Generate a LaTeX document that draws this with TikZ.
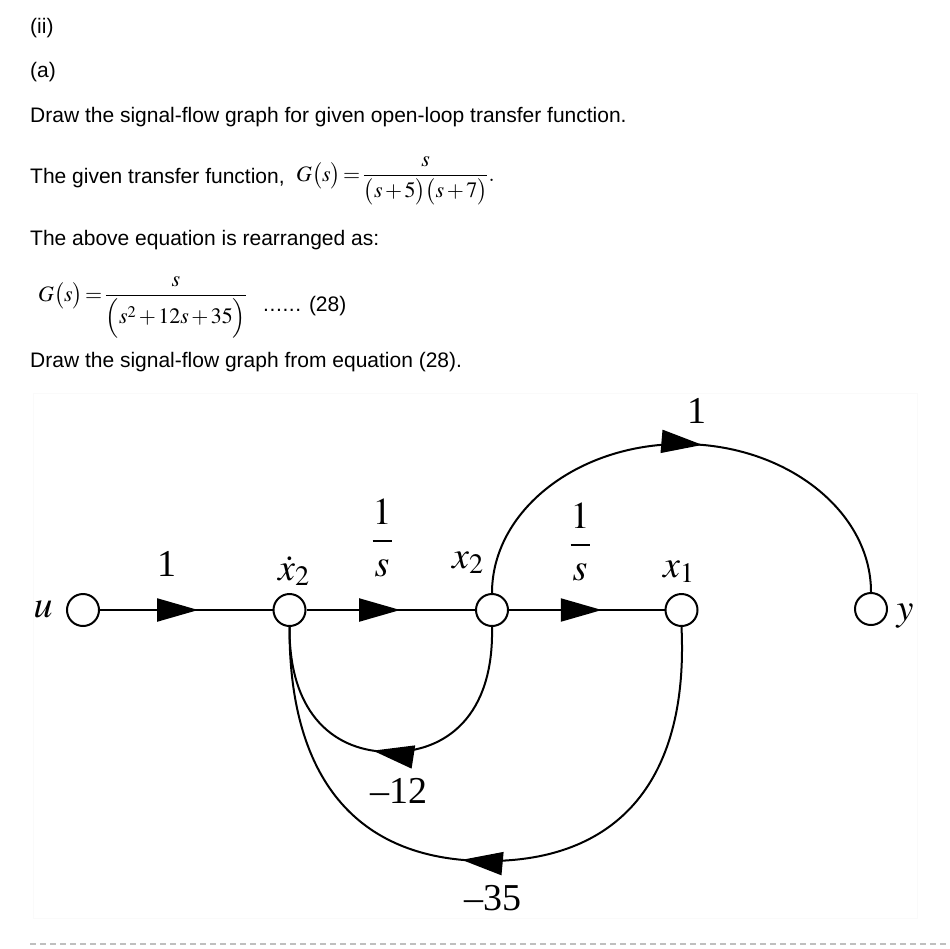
\documentclass[tikz,border=0pt]{standalone}
\usepackage{mathptmx}
\usepackage[no-math]{fontspec}
\setmainfont{Liberation Sans}
\newfontfamily\tms{Liberation Serif}
\newcommand{\tightsp}{\thickmuskip=2mu\relax\medmuskip=2mu\relax}
\usetikzlibrary{arrows.meta,decorations.markings}
\begin{document}
\begin{tikzpicture}[x=1pt,y=1pt,
  txt/.style={anchor=base west, inner sep=0pt, font=\fontsize{21}{25}\selectfont},
  eq/.style={anchor=base west, inner sep=0pt, font=\fontsize{22}{26}\selectfont},
  nd/.style={circle, draw, line width=2pt, minimum size=32pt, inner sep=0pt, fill=white},
  lab/.style={inner sep=0pt, font=\fontsize{38}{40}\selectfont},
  wire/.style={line width=2pt},
  arrowat/.style={postaction={decorate}, decoration={markings,
     mark=at position #1 with {\arrow{Triangle[length=41pt,width=23pt]}}}}
]
\useasboundingbox (0,0) rectangle (950,-948);
\fill[white] (0,0) rectangle (950,-948);
% faint frame
\draw[black!2, line width=1pt] (33,-393) rectangle (917,-918);
% texts
\node[txt] (t1) at (30,-33.6) {(ii)};
\node[txt] (t2) at (30,-77.5) {(a)};
\node[txt] (t3) at (30,-122) {Draw the signal-flow graph for given open-loop transfer function.};
\node[txt] (t4) at (30,-183) {The given transfer function,};
\node[eq] (e1) at (296,-181) {$\tightsp G\bigl(s\bigr)=\displaystyle\frac{\;s\;}{\bigl(s+5\bigr)\bigl(s+7\bigr)}.$};
\node[txt] (t5) at (30,-245) {The above equation is rearranged as:};
\node[eq] (e2) at (38,-301) {$\tightsp G\bigl(s\bigr)=\displaystyle\frac{s}{\Bigl(s^2+12s+35\Bigr)}$};
\node[txt] (t6) at (263,-311) {.\kern0.6pt.\kern0.6pt.\kern0.6pt.\kern0.6pt.\kern0.6pt. (28)};
\node[txt] (t7) at (30,-367) {Draw the signal-flow graph from equation (28).};
% nodes
\node[nd] (u) at (83,-610) {};
\node[nd] (xd) at (289.5,-610) {};
\node[nd] (x2) at (492,-610) {};
\node[nd] (x1) at (681.5,-610) {};
\node[nd] (y) at (871,-609) {};
% edges
\draw[wire, arrowat=0.569] (u) -- (xd);
\draw[wire, arrowat=0.556] (xd) -- (x2);
\draw[wire, arrowat=0.597] (x2) -- (x1);
\draw[wire, arrowat=0.54] (x2.north) .. controls (492,-511.2) and (576.8,-444) .. (681.5,-444)
      .. controls (786.2,-444) and (871,-511.2) .. (y.north);
\draw[wire, arrowat=0.55] (x2.south) .. controls (494,-716) and (446,-752) .. (391,-752)
      .. controls (336,-752) and (289,-716) .. (xd.south);
\draw[wire, arrowat=0.537] (x1.south) .. controls (689,-786) and (613,-861) .. (488,-861)
      .. controls (363,-861) and (289,-786) .. (xd.south);
% labels
\node[lab] (lu) at (43,-609) {$u$};
\node[lab] (ly) at (905,-616) {$y$};
\node[lab] (g1) at (167,-564) {\tms 1};
\node[lab, anchor=base west] (lxd) at (278,-580) {$\dot{x}_2$};
\node[lab, anchor=base west] (lx2) at (452,-568) {$x_2$};
\node[lab, anchor=base west] (lx1) at (663,-577) {$x_1$};
\node[lab, anchor=base] (g2) at (382,-550.5) {$\displaystyle\frac{1}{s}$};
\node[lab, anchor=base] (g3) at (580,-554.5) {$\displaystyle\frac{1}{s}$};
\node[lab] (g4) at (697,-410.5) {\tms 1};
\node[lab] (g5) at (399,-791) {\tms \textendash12};
\node[lab] (g6) at (493,-898) {\tms \textendash35};
% dashed rule
\draw[black!25, line width=1.5pt, dash pattern=on 6pt off 4pt] (30,-944) -- (950,-944);
\end{tikzpicture}
\end{document}
